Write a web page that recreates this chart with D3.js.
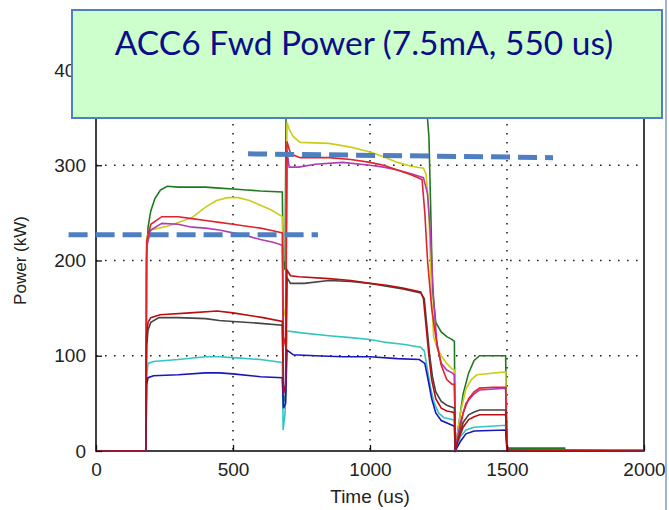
<!DOCTYPE html>
<html>
<head>
<meta charset="utf-8">
<script src="https://cdn.jsdelivr.net/npm/d3@7"></script>
<style>
  html, body { margin: 0; padding: 0; background: #fff; }
  svg { display: block; }
</style>
</head>
<body>
<div id="chart"></div>
<script>
// traces, [time (us), power (kW)]
const green = [[0,0],[182,0],[184,200],[190,235],[200,252],[215,265],[235,274],[260,278],[300,277],[400,277],[450,276],[500,275],[550,274],[600,273],[680,272],[683,200],[690,190],[694,380],[700,385],[800,380],[1000,375],[1200,370],[1207,360],[1215,330],[1222,250],[1228,170],[1240,135],[1260,125],[1280,120],[1300,117],[1308,115],[1311,0],[1320,20],[1340,60],[1360,82],[1380,95],[1400,100],[1495,100],[1500,3],[1710,3],[1712,0],[2000,0]];
const yellow = [[0,0],[182,0],[185,225],[200,232],[260,236],[300,240],[350,245],[400,256],[440,263],[480,266],[520,266],[560,263],[600,258],[640,253],[680,246],[684,150],[692,140],[697,345],[705,338],[720,330],[745,324],[850,323],[930,319],[1000,314],[1050,309],[1100,303],[1150,299],[1195,297],[1205,290],[1215,250],[1225,160],[1232,120],[1245,108],[1260,100],[1280,92],[1300,86],[1308,85],[1311,0],[1330,40],[1350,65],[1370,75],[1390,80],[1495,83],[1500,2],[1510,0],[2000,0]];
const crimson = [[0,0],[182,0],[185,220],[200,238],[240,246],[300,246],[350,244],[400,242],[450,240],[500,238],[550,236],[600,234],[650,231],[680,229],[684,120],[692,110],[697,325],[710,312],[745,308],[850,308],[930,306],[1000,303],[1050,300],[1100,295],[1150,290],[1190,285],[1200,250],[1210,200],[1225,150],[1240,120],[1260,90],[1280,75],[1300,70],[1308,70],[1312,5],[1320,10],[1340,40],[1360,55],[1380,62],[1400,66],[1450,67],[1495,67],[1500,5],[1510,1],[2000,1]];
const magenta = [[0,0],[182,0],[185,215],[200,232],[240,239],[300,238],[350,235],[400,234],[450,232],[500,229],[550,226],[600,222],[650,219],[680,216],[684,60],[692,70],[697,315],[705,298],[740,298],[800,301],[900,303],[1000,300],[1050,298],[1100,295],[1150,291],[1195,287],[1210,270],[1220,230],[1232,160],[1245,110],[1260,92],[1280,85],[1300,82],[1308,80],[1312,3],[1330,30],[1350,50],[1380,60],[1400,64],[1495,66],[1500,3],[1510,0],[2000,0]];
const darkgray = [[0,0],[182,0],[185,110],[190,127],[200,135],[230,140],[300,140],[400,139],[450,137],[500,136],[600,134],[680,132],[684,50],[692,60],[697,182],[710,176],[760,176],[850,179],[930,178],[1000,176],[1060,173],[1120,170],[1185,166],[1198,160],[1208,130],[1218,100],[1228,78],[1240,62],[1260,52],[1280,48],[1300,46],[1308,45],[1311,0],[1320,10],[1340,30],[1360,38],[1380,41],[1400,43],[1495,43],[1500,1],[2000,0]];
const cyan = [[0,0],[182,0],[185,80],[190,92],[210,94],[300,96],[400,99],[450,99],[500,98],[600,96],[680,93],[683,22],[690,40],[697,126],[750,124],[850,121],[930,119],[1000,117],[1060,114],[1120,112],[1185,109],[1198,105],[1210,85],[1222,65],[1235,50],[1250,40],[1270,35],[1300,33],[1308,32],[1311,0],[1330,15],[1350,22],[1380,25],[1495,27],[1500,1],[2000,0]];
const blue = [[0,0],[182,0],[185,70],[190,77],[210,79],[300,80],[400,82],[450,82],[500,81],[600,78],[680,77],[684,45],[692,50],[697,106],[720,101],[800,100],[900,99],[1000,99],[1100,97],[1180,96],[1200,92],[1212,75],[1225,55],[1240,40],[1260,32],[1300,27],[1308,26],[1311,0],[1330,10],[1350,18],[1380,21],[1495,22],[1500,0],[2000,0]];
const red = [[0,0],[182,0],[184,120],[190,135],[200,140],[234,143],[343,145],[442,147],[500,145],[610,140],[680,136],[684,60],[692,70],[697,190],[710,184],[740,183],[850,181],[930,179],[1000,176],[1060,174],[1120,171],[1185,167],[1195,160],[1205,130],[1215,100],[1225,75],[1240,55],[1260,45],[1280,42],[1300,41],[1308,40],[1311,0],[1320,10],[1340,25],[1360,33],[1380,36],[1400,38],[1495,38],[1500,1],[2000,0]];

const traces = [
  {data: green, color: "#1f7a1f"},
  {data: yellow, color: "#cccc1a"},
  {data: magenta, color: "#b03cb0"},
  {data: crimson, color: "#e0242c"},
  {data: darkgray, color: "#454545"},
  {data: cyan, color: "#33c4c4"},
  {data: blue, color: "#1818b8"},
  {data: red, color: "#b81010"}
];

// blue dashed guide lines drawn on the slide
const guide1 = [[-100,227],[810,227]];
const guide2 = [[555,312],[1668,308]];

const xTicks = [0, 500, 1000, 1500, 2000];
const yTicks = [0, 100, 200, 300, 400];
const titleText = "ACC6 Fwd Power (7.5mA, 550 us)";

const W = 669, H = 510;
const margin = {top: 70, right: 25, bottom: 59, left: 96};
const width = W - margin.left - margin.right,
      height = H - margin.top - margin.bottom;

const svg = d3.select("#chart").append("svg")
  .attr("width", W).attr("height", H)
  .style("background", "#fff");

const g = svg.append("g")
  .attr("transform", "translate(" + margin.left + "," + margin.top + ")");

const x = d3.scaleLinear().domain([0, 2000]).range([0, width]);
const y = d3.scaleLinear().domain([0, 400]).range([height, 0]);

g.append("clipPath").attr("id", "plotclip")
  .append("rect").attr("x", -1).attr("y", 0).attr("width", width + 2).attr("height", height + 1.5);

// dotted grid
g.append("g").selectAll("line")
  .data(xTicks.slice(1, -1)).join("line")
  .attr("x1", d => x(d)).attr("x2", d => x(d))
  .attr("y1", 0).attr("y2", height)
  .attr("stroke", "#222").attr("stroke-width", 1.6)
  .attr("stroke-dasharray", "1.6,7.4").attr("stroke-linecap", "butt");
g.append("g").selectAll("line")
  .data(yTicks.slice(1, -1)).join("line")
  .attr("y1", d => y(d)).attr("y2", d => y(d))
  .attr("x1", 0).attr("x2", width)
  .attr("stroke", "#222").attr("stroke-width", 1.6)
  .attr("stroke-dasharray", "1.6,7.4");

// axes box under the traces, so the zero-level trace shows on top
g.append("rect").attr("width", width).attr("height", height)
  .attr("fill", "none").attr("stroke", "#111").attr("stroke-width", 1.6);

// traces
const line = d3.line().x(d => x(d[0])).y(d => y(d[1]));
g.append("g").attr("clip-path", "url(#plotclip)")
  .selectAll("path").data(traces).join("path")
  .attr("fill", "none")
  .attr("stroke", d => d.color)
  .attr("stroke-width", 1.6)
  .attr("d", d => line(d.data));

// axes (ticks point inward, matlab style)
const axisFont = "'Liberation Sans', Arial, sans-serif";
const fmt = d3.format("d");
const xAxis = g.append("g")
  .attr("transform", "translate(0," + height + ")")
  .call(d3.axisBottom(x).tickValues(xTicks).tickFormat(fmt).tickSizeInner(-6).tickSizeOuter(0).tickPadding(12));
const yAxis = g.append("g")
  .call(d3.axisLeft(y).tickValues(yTicks).tickFormat(fmt).tickSizeInner(-6).tickSizeOuter(0).tickPadding(10));
[xAxis, yAxis].forEach(a => {
  a.select(".domain").remove();
  a.selectAll(".tick line").attr("stroke", "#111").attr("stroke-width", 1.3);
  a.selectAll("text").attr("fill", "#222").style("font-family", axisFont).style("font-size", "19px");
});

g.append("text")
  .attr("x", width / 2).attr("y", height + 52)
  .attr("text-anchor", "middle")
  .style("font-family", axisFont).style("font-size", "19px").attr("fill", "#222")
  .text("Time (us)");
g.append("text")
  .attr("transform", "translate(" + (-70) + "," + (height / 2) + ") rotate(-90)")
  .attr("text-anchor", "middle")
  .style("font-family", axisFont).style("font-size", "17px").attr("fill", "#222")
  .text("Power (kW)");

// dashed guides
g.selectAll(".guide").data([guide1, guide2]).join("path")
  .attr("class", "guide")
  .attr("fill", "none").attr("stroke", "#4f7fc0")
  .attr("stroke-width", 5).attr("stroke-dasharray", "19,8")
  .attr("d", line);

// title box over the plot
svg.append("rect")
  .attr("x", 72).attr("y", 10).attr("width", 590).attr("height", 108)
  .attr("fill", "#ccffcc").attr("stroke", "#4f7fc0").attr("stroke-width", 2);
svg.append("text")
  .attr("x", 364).attr("y", 55)
  .attr("text-anchor", "middle")
  .style("font-family", "Lato, 'Open Sans', sans-serif").style("font-size", "33.5px")
  .attr("fill", "#0d0d8a")
  .text(titleText);

// slide edge
svg.append("line").attr("x1", 666).attr("x2", 666).attr("y1", 0).attr("y2", H)
  .attr("stroke", "#9fb3d0").attr("stroke-width", 2);
</script>
</body>
</html>
